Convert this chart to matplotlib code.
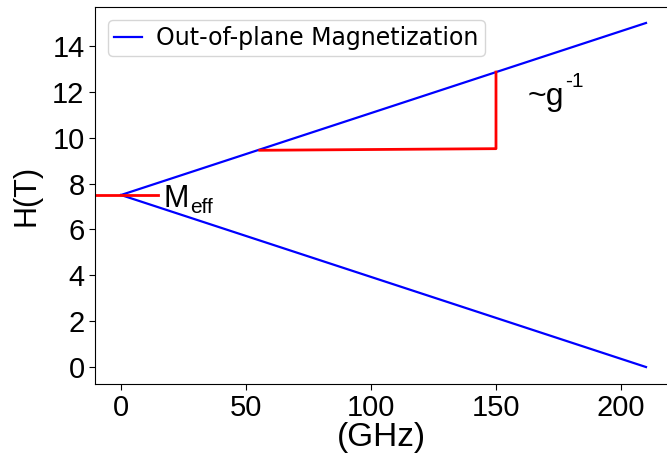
import matplotlib
matplotlib.use('Agg')
import matplotlib.pyplot as plt

# Resonance field vs frequency, out-of-plane geometry
freq = [0, 210]
h_upper = [7.5, 15.0]
h_lower = [7.5, 0.0]

# Red guide lines: M_eff marker and slope triangle
meff_x = [-10.5, 14.8]
meff_y = [7.52, 7.52]
tri_x = [55.5, 150, 150]
tri_y = [9.45, 9.52, 12.86]

xticks = [0, 50, 100, 150, 200]
yticks = [0, 2, 4, 6, 8, 10, 12, 14]

fig = plt.figure(figsize=(6.67, 4.61), dpi=100)
ax = fig.add_axes([0.1424, 0.167, 0.8576, 0.818])

ax.plot(freq, h_upper, color='blue', lw=1.6, label='Out-of-plane Magnetization')
ax.plot(freq, h_lower, color='blue', lw=1.6)
ax.plot(meff_x, meff_y, color='red', lw=2.0)
ax.plot(tri_x, tri_y, color='red', lw=2.0)

# annotations, main letters with smaller sub/superscripts
ax.text(17.0, 6.98, 'M', fontsize=22, family='Liberation Sans', va='baseline')
ax.text(27.6, 6.72, 'eff', fontsize=15, family='Liberation Sans', va='baseline')
ax.text(162.5, 11.44, '~g', fontsize=23, family='Liberation Sans', va='baseline')
ax.text(177.5, 12.2, '-1', fontsize=15, family='Liberation Sans', va='baseline')

ax.set_xlim(-10.4, 218.4)
ax.set_ylim(-0.74, 15.7)
ax.set_xticks(xticks)
ax.set_yticks(yticks)
ax.tick_params(labelsize=21, length=4)
for lab in ax.get_xticklabels() + ax.get_yticklabels():
    lab.set_family('Liberation Sans')

ax.spines['right'].set_visible(False)

ax.set_xlabel('(GHz)', fontsize=24, family='Liberation Sans', labelpad=0)
ax.set_ylabel('H(T)', fontsize=22, family='Liberation Sans', labelpad=8)

ax.legend(loc='upper left', fontsize=17, handlelength=1.2, handletextpad=0.6,
          borderaxespad=0.55, borderpad=0.25)

fig.savefig('out.png', dpi=100)
